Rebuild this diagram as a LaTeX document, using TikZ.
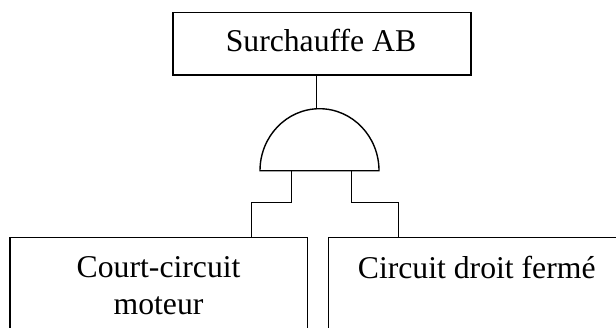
\documentclass[tikz,border=0pt]{standalone}
\usepackage{fontspec}
\setmainfont{Liberation Serif}
\begin{document}
\begin{tikzpicture}[x=0.5bp,y=-0.5bp, line width=0.7bp,
  box/.style={draw, rectangle, inner sep=0pt, line width=0.7bp},
  lbl/.style={anchor=base, inner sep=0pt, font=\fontsize{15.85bp}{18bp}\selectfont},
  wire/.style={draw, line width=0.7bp}]
\useasboundingbox (0,0) rectangle (616,327);
\clip (0,0) rectangle (616,327);
% boxes
\node[box, minimum width=149bp, minimum height=31.15bp] (top) at (322,43.85) {};
\node[box, minimum width=148.65bp, minimum height=61.15bp] (lbox) at (158.65,298.85) {};
\node[box, minimum width=148.35bp, minimum height=61.15bp] (rbox) at (476.65,298.85) {};
% texts
\node[lbl] (ttop) at (321,51.7) {Surchauffe AB};
\node[lbl] (tl1) at (158.6,277.3) {Court-circuit};
\node[lbl] (tl2) at (158.5,314) {moteur};
\node[lbl] (tr) at (476.7,278.3) {Circuit droit fermé};
% AND gate
\draw[wire] (260,170.7) arc[start angle=180, end angle=0, x radius=29.75bp, y radius=31bp] -- cycle;
\coordinate (gtop) at (316.7,109);
\coordinate (gin1) at (291.7,170.7);
\coordinate (gin2) at (351.7,170.7);
\coordinate (jL) at (251.7,202.5);
\coordinate (jR) at (398.3,202.7);
% connectors
\draw[wire] (top.south -| gtop) -- (gtop);
\draw[wire] (gin1) |- (jL) -- (jL |- lbox.north);
\draw[wire] (gin2) |- (jR) -- (jR |- rbox.north);
\end{tikzpicture}
\end{document}
